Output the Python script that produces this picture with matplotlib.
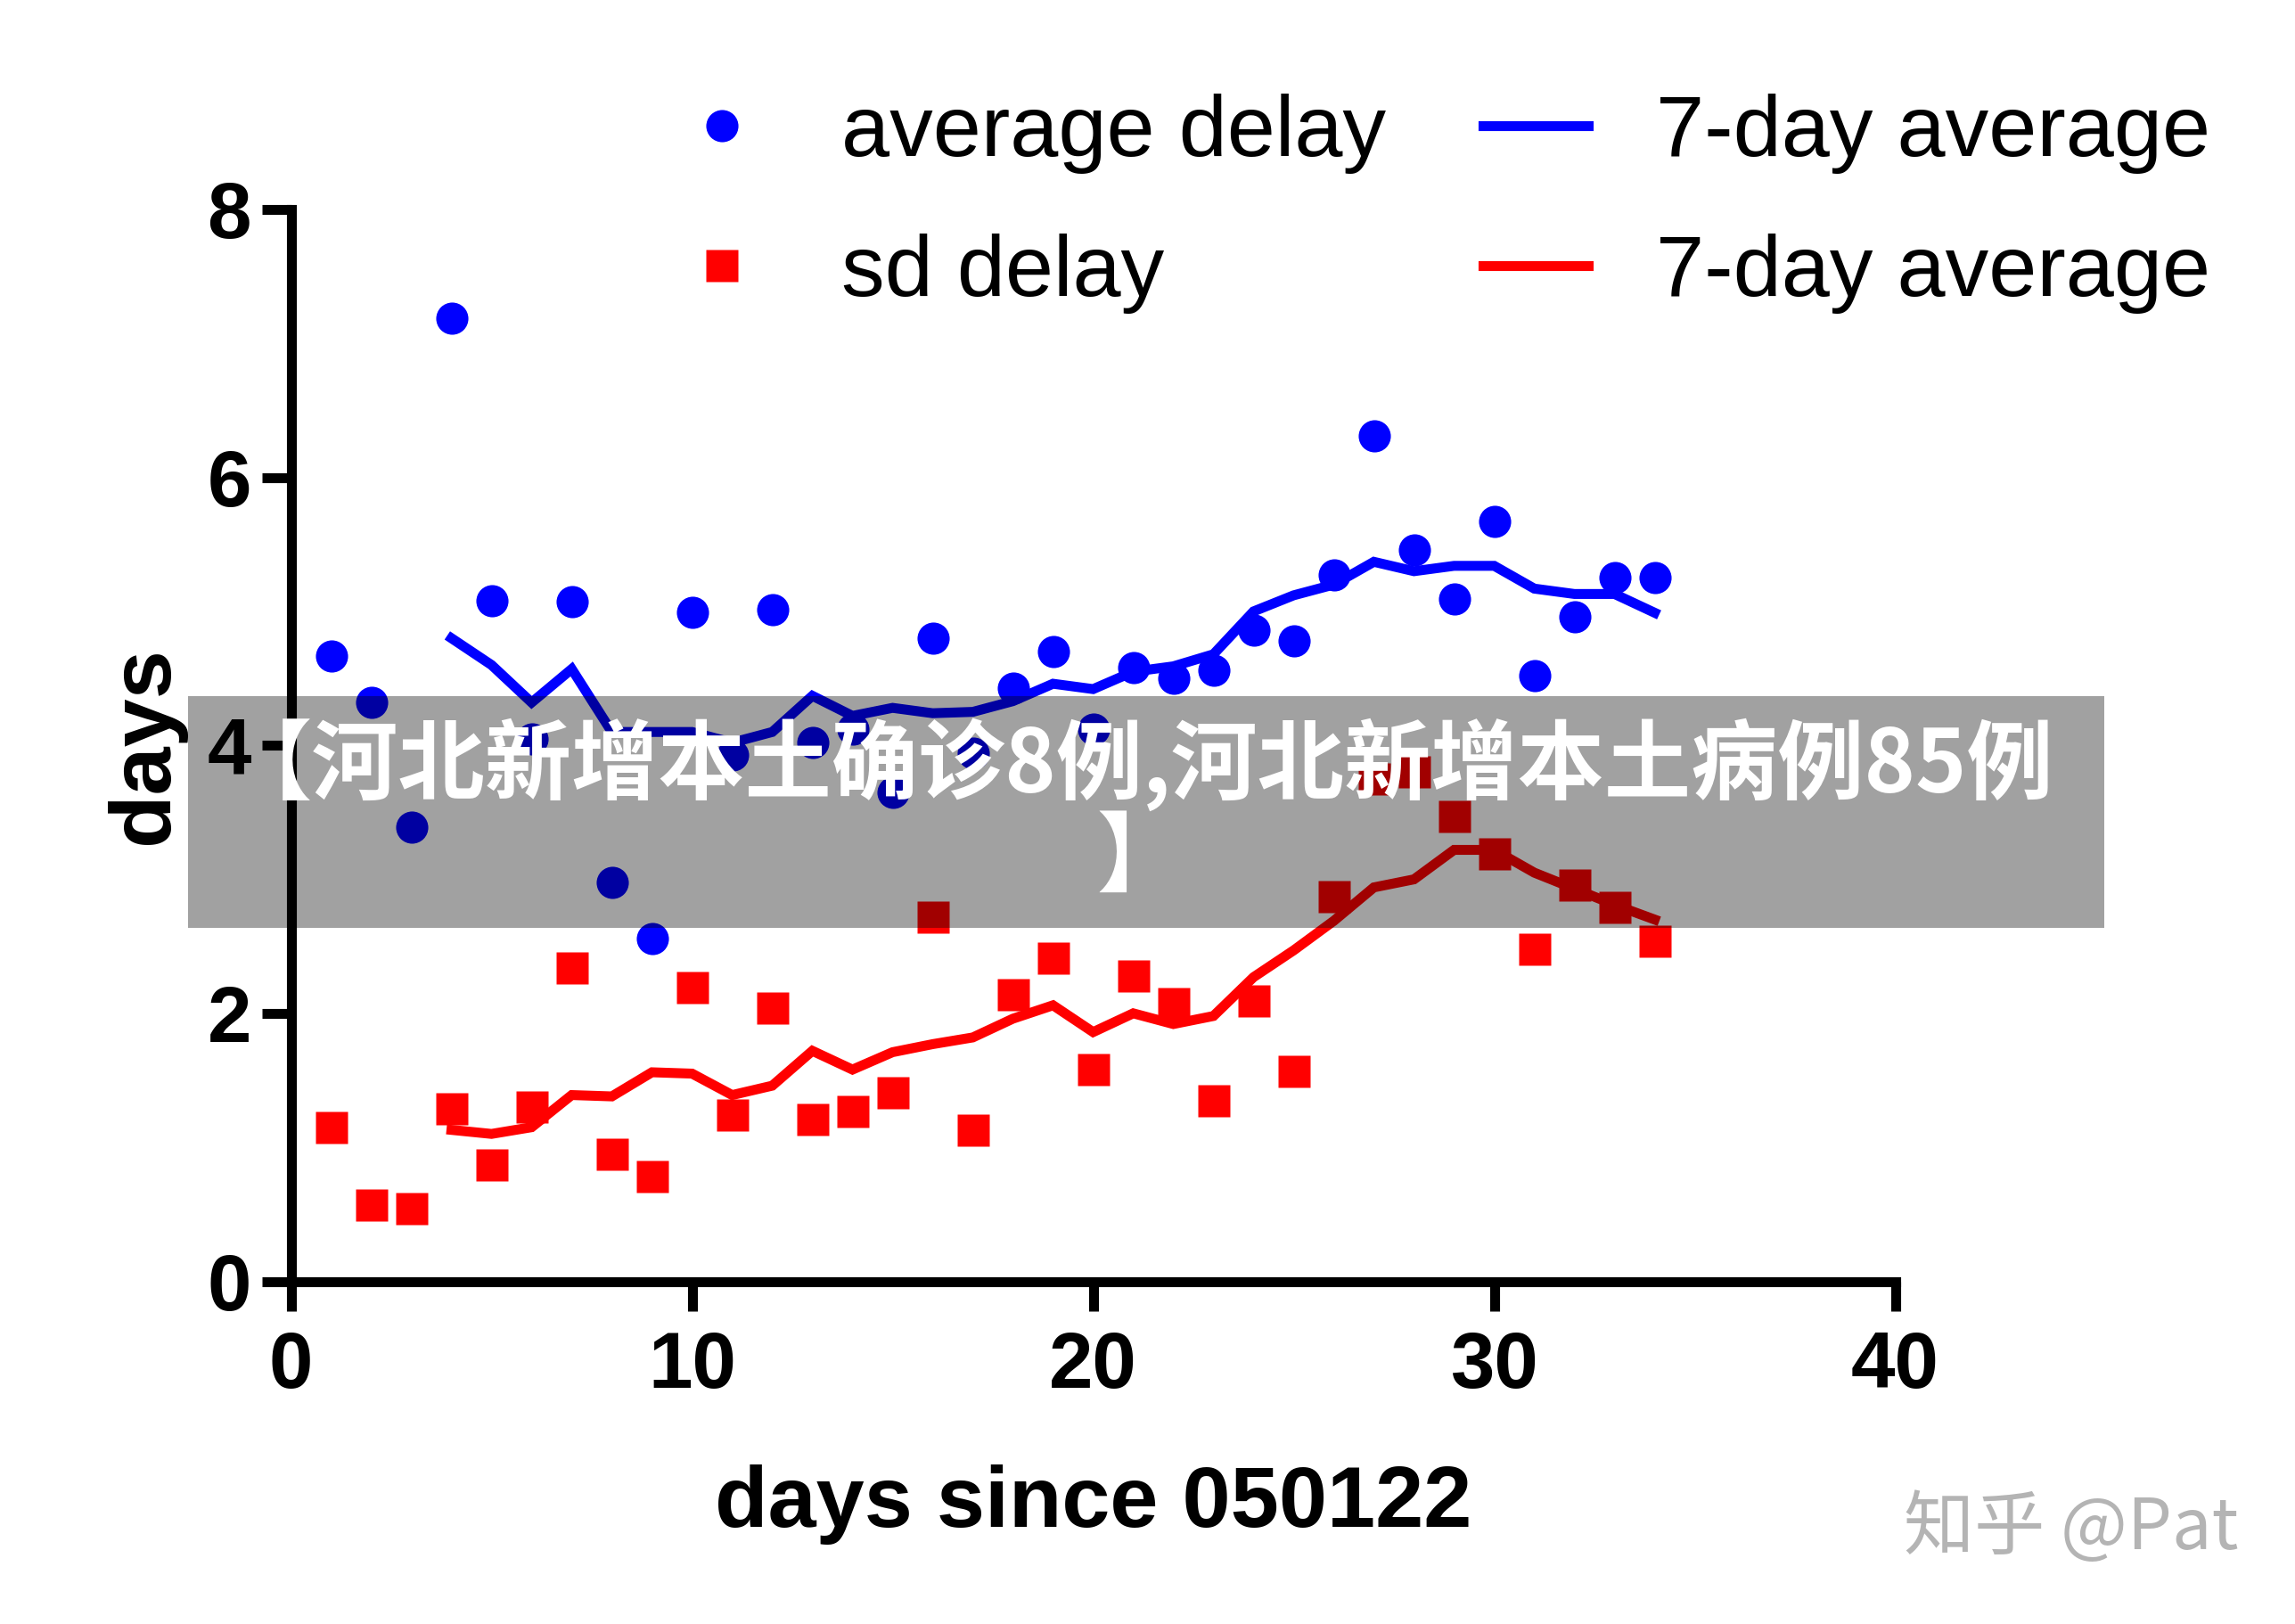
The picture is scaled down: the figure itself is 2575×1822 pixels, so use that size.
import matplotlib
matplotlib.use("Agg")
import matplotlib.pyplot as plt
from matplotlib.patches import Rectangle

plt.rcParams['font.family'] = ['Liberation Sans', 'Noto Sans CJK SC', 'DejaVu Sans']

# ---------------- data ----------------
days = list(range(1, 35))
avg_delay = [4.67, 4.32, 3.39, 7.19, 5.08, 4.05, 5.07, 2.98, 2.56, 4.99,
             3.93, 5.01, 4.02, 4.12, 3.65, 4.80, 3.94, 4.43, 4.70, 4.12,
             4.58, 4.50, 4.56, 4.86, 4.78, 5.27, 6.31, 5.46, 5.09, 5.67,
             4.52, 4.96, 5.25, 5.25]
sd_delay = [1.15, 0.57, 0.54, 1.29, 0.87, 1.30, 2.34, 0.95, 0.78, 2.19,
            1.24, 2.04, 1.21, 1.27, 1.41, 2.72, 1.13, 2.14, 2.41, 1.58,
            2.28, 2.07, 1.35, 2.09, 1.57, 2.87, 3.75, 3.80, 3.47, 3.19,
            2.48, 2.96, 2.79, 2.54]
days_avg = list(range(4, 35))
avg_delay_7d = [4.80, 4.60, 4.32, 4.57, 4.10, 4.10, 4.10, 4.02, 4.10, 4.37,
                4.22, 4.28, 4.24, 4.25, 4.33, 4.46, 4.42, 4.55, 4.59, 4.68,
                5.00, 5.12, 5.20, 5.37, 5.30, 5.34, 5.34, 5.17, 5.13, 5.13,
                4.99]
sd_delay_7d = [1.13, 1.10, 1.15, 1.39, 1.38, 1.56, 1.55, 1.39, 1.46, 1.72,
               1.58, 1.71, 1.77, 1.82, 1.96, 2.06, 1.86, 2.00, 1.92, 1.98,
               2.27, 2.47, 2.69, 2.94, 3.00, 3.22, 3.22, 3.05, 2.93, 2.81,
               2.70]
x_ticks = [0, 10, 20, 30, 40]
y_ticks = [0, 2, 4, 6, 8]
legend_labels = ['average delay', 'sd delay', '7-day average', '7-day average']
x_label = 'days since 050122'
y_label = 'days'
banner = '【河北新增本土确诊8例,河北新增本土病例85例\n】'
watermark = '知乎 @Pat'

W, H = 2575, 1822
fig = plt.figure(figsize=(W / 100, H / 100), dpi=100)
fig.patch.set_facecolor('white')
ax = fig.add_axes([326.5 / W, 1 - 1437.5 / H, 1800 / W, 1202.5 / H])

blue = '#0000ff'
red = '#ff0000'
h1, = ax.plot(days, avg_delay, 'o', color=blue, ms=26, mec='none', label=legend_labels[0], zorder=3)
h2, = ax.plot(days, sd_delay, 's', color=red, ms=26, mec='none', label=legend_labels[1], zorder=3)
h3, = ax.plot(days_avg, avg_delay_7d, '-', color=blue, lw=8, label=legend_labels[2], zorder=4,
              solid_joinstyle='miter')
h4, = ax.plot(days_avg, sd_delay_7d, '-', color=red, lw=8, label=legend_labels[3], zorder=4,
              solid_joinstyle='miter')

ax.set_xlim(0, 40)
ax.set_ylim(0, 8)
ax.set_xticks(x_ticks)
ax.set_yticks(y_ticks)
for s in ['top', 'right']:
    ax.spines[s].set_visible(False)
for s in ['left', 'bottom']:
    ax.spines[s].set_linewidth(8)
    ax.spines[s].set_capstyle('projecting')
ax.tick_params(axis='both', width=8, length=24, labelsize=64, colors='black')
ax.tick_params(axis='x', pad=15)
ax.tick_params(axis='y', pad=8)
for lbl in ax.get_xticklabels() + ax.get_yticklabels():
    lbl.set_fontweight('bold')

ax.set_xlabel(x_label, fontsize=70, fontweight='bold')
ax.xaxis.label.set_va('baseline')
ax.xaxis.set_label_coords(0.5, -(1713 - 1437.5) / 1202.5)
ax.set_ylabel(y_label, fontsize=70, fontweight='bold')
ax.yaxis.label.set_va('baseline')
ax.yaxis.set_label_coords((188 - 326.5) / 1800, 0.5)

fig.legend(handles=[h1, h2, h3, h4], ncol=2, loc='upper left',
           bbox_to_anchor=(751 / W, 1 - 105 / H), frameon=False, fontsize=70,
           handlelength=1.21, handletextpad=0.78, columnspacing=1.12,
           labelspacing=0.69, borderpad=0, borderaxespad=0)

fig.add_artist(Rectangle((211 / W, 1 - 1041 / H), (2361 - 211) / W, 260 / H,
                         transform=fig.transFigure, facecolor='black', alpha=0.37,
                         edgecolor='none', zorder=10))
fig.text(1279 / W, 1 - 909 / H, banner, ha='center', va='center', color='white',
         fontsize=70, fontweight='heavy', linespacing=1.06, multialignment='center',
         family=['Noto Sans CJK SC', 'DejaVu Sans'], zorder=11)
fig.text(2324 / W, 1 - 1716 / H, watermark, ha='center', va='center', color='#b4b4b4',
         fontsize=57, family=['Noto Sans CJK SC', 'DejaVu Sans'], zorder=11)

fig.savefig('out.png', dpi=100, facecolor='white')
